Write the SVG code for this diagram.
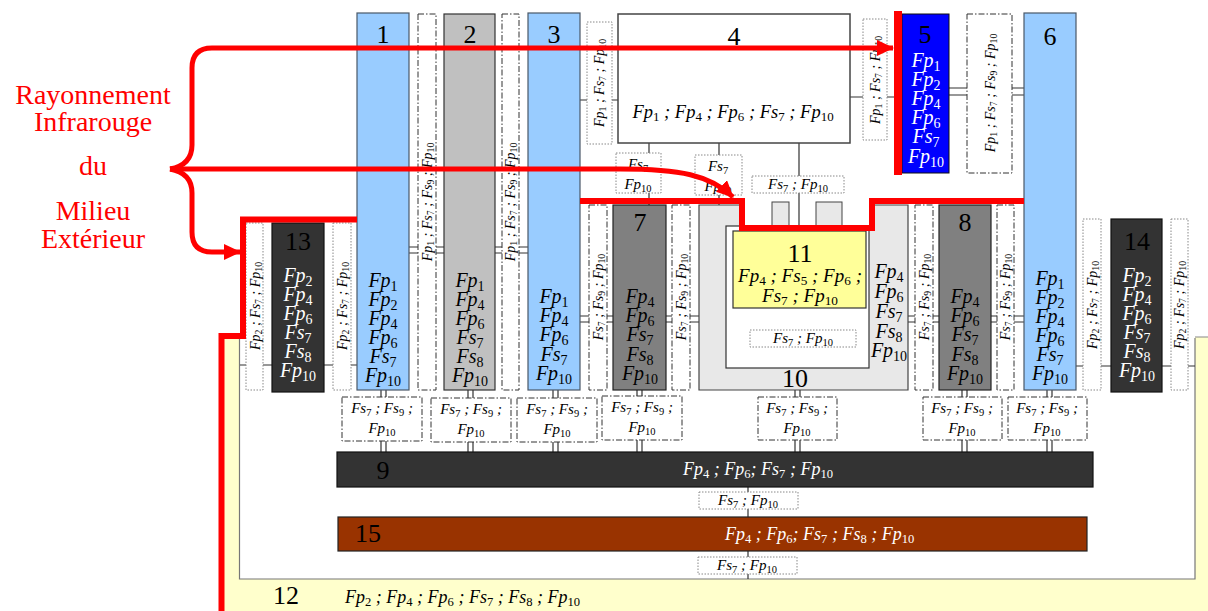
<svg xmlns="http://www.w3.org/2000/svg" width="1208" height="611" viewBox="0 0 1208 611" font-family="'Liberation Serif', 'Times New Roman', 'DejaVu Serif', serif">
<defs>
<style>
text{font-family:'Liberation Serif','Times New Roman','DejaVu Serif',serif}
.t{font-style:italic;text-anchor:middle;fill:#000}
.c{font-size:20px}
.v{font-size:14px}
.m{font-size:15px}
.w{fill:#fff}
.st{text-anchor:start}
.n{font-size:26px;text-anchor:middle;fill:#000}
.s{font-size:70%;baseline-shift:-0.25em;font-style:normal}
.lb{fill:#99CCFF;stroke:#4a5868;stroke-width:1.2}
.gy{fill:#C0C0C0;stroke:#333;stroke-width:1.2}
.dg{fill:#808080;stroke:#222;stroke-width:1.2}
.dk{fill:#333333;stroke:#111;stroke-width:1.2}
.dd{fill:#fff;stroke:#333;stroke-width:1;stroke-dasharray:6 2 1.5 2}
.dt{fill:#fff;stroke:#888;stroke-width:1;stroke-dasharray:1.5 1.5}
.ln{stroke:#333;stroke-width:1.2;fill:none}
.red{stroke:#FF0000;stroke-width:6;fill:none}
.ra{stroke:#FF0000;stroke-width:5;fill:none}
.rt{font-size:28px;fill:#FF0000;text-anchor:middle}
</style>
<marker id="ah" markerUnits="userSpaceOnUse" markerWidth="17" markerHeight="16" refX="16" refY="8" orient="auto"><path d="M0,0 L17,8 L0,16 z" fill="#FF0000"/></marker>
</defs>
<rect width="1208" height="611" fill="#fff"/>

<g id="n12">
<rect x="222" y="337" width="1000" height="290" rx="4" fill="#FFFFCC" stroke="#888" stroke-width="1.2"/>
<rect x="239.5" y="335" width="955.5" height="244" fill="#fff"/>
<path d="M239.5,337 V579 H1195 V338" fill="none" stroke="#777" stroke-width="1.2"/>
<text class="n" x="286" y="604">12</text>
<text class="t st" x="345" y="603" font-size="18">Fp<tspan class="s">2</tspan> ; Fp<tspan class="s">4</tspan> ; Fp<tspan class="s">6</tspan> ; Fs<tspan class="s">7</tspan> ; Fs<tspan class="s">8</tspan> ; Fp<tspan class="s">10</tspan></text>
</g>

<g id="connectors">
<path class="ln" d="M409,247 H418 M409,253 H418 M436,247 H444 M436,253 H444 M495,247 H502 M495,253 H502 M519,247 H528 M519,253 H528"/>
<path class="ln" d="M580,316 H589 M580,322 H589 M607,316 H613 M607,322 H613 M666,316 H672 M666,322 H672 M690,316 H699 M690,322 H699 M908,316 H915 M908,322 H915 M933,316 H939 M933,322 H939 M991,316 H997 M991,322 H997 M1014,316 H1024 M1014,322 H1024"/>
<path class="ln" d="M240,365 H246 M263,365 H272 M324,365 H333 M351,365 H357 M1076,366 H1083 M1101,366 H1111 M1162,366 H1171 M1188,366 H1195"/>
<path class="ln" d="M580,100 H587 M612,100 H618 M850,97 H863 M887,97 H894 M949,88 H967 M949,95 H967 M1012,88 H1024 M1012,95 H1024"/>
<path class="ln" d="M649,143 V153 M649,193 V205 M719,143 V155 M719,195 V205 M799,143 V176 M799,193 V231 M799,308 V330 M799,347 V368"/>
<path class="ln" d="M381,390 V397 M386,390 V397 M381,441 V452 M386,441 V452 M468,390 V398 M473,390 V398 M468,442 V452 M473,442 V452 M553,390 V398 M558,390 V398 M553,442 V452 M558,442 V452 M637,390 V396 M642,390 V396 M637,440 V452 M642,440 V452 M795,390 V397 M800,390 V397 M795,440 V452 M800,440 V452 M962,390 V397 M967,390 V397 M962,440 V452 M967,440 V452 M1047,390 V397 M1052,390 V397 M1047,440 V452 M1052,440 V452"/>
<path class="ln" d="M748,487 V492 M748,509 V517 M748,551 V557 M748,574 V579"/>
</g>

<g id="n1"><rect class="lb" x="357" y="13" width="52" height="377"/>
<text class="n" x="383" y="43">1</text>
<text class="t c" x="383" y="287">Fp<tspan class="s">1</tspan></text><text class="t c" x="383" y="306">Fp<tspan class="s">2</tspan></text><text class="t c" x="383" y="325">Fp<tspan class="s">4</tspan></text><text class="t c" x="383" y="344">Fp<tspan class="s">6</tspan></text><text class="t c" x="383" y="363">Fs<tspan class="s">7</tspan></text><text class="t c" x="383" y="382">Fp<tspan class="s">10</tspan></text></g>

<g id="n2"><rect class="gy" x="444" y="14" width="51" height="376"/>
<text class="n" x="470" y="43">2</text>
<text class="t c" x="470" y="287">Fp<tspan class="s">1</tspan></text><text class="t c" x="470" y="306">Fp<tspan class="s">4</tspan></text><text class="t c" x="470" y="325">Fp<tspan class="s">6</tspan></text><text class="t c" x="470" y="344">Fs<tspan class="s">7</tspan></text><text class="t c" x="470" y="363">Fs<tspan class="s">8</tspan></text><text class="t c" x="470" y="382">Fp<tspan class="s">10</tspan></text></g>

<g id="n3"><rect class="lb" x="528" y="13" width="52" height="377"/>
<text class="n" x="554" y="43">3</text>
<text class="t c" x="554" y="303">Fp<tspan class="s">1</tspan></text><text class="t c" x="554" y="322">Fp<tspan class="s">4</tspan></text><text class="t c" x="554" y="341">Fp<tspan class="s">6</tspan></text><text class="t c" x="554" y="361">Fs<tspan class="s">7</tspan></text><text class="t c" x="554" y="380">Fp<tspan class="s">10</tspan></text></g>

<g id="n4"><rect x="618" y="14" width="232" height="129" fill="#fff" stroke="#444" stroke-width="1.5"/>
<text class="n" x="734" y="45">4</text>
<text class="t" font-size="18.5" x="733" y="118">Fp<tspan class="s">1</tspan> ; Fp<tspan class="s">4</tspan> ; Fp<tspan class="s">6</tspan> ; Fs<tspan class="s">7</tspan> ; Fp<tspan class="s">10</tspan></text></g>

<g id="n5"><rect x="902" y="14" width="47" height="159" fill="#0000FF" stroke="#111"/>
<text class="n w" x="925" y="43">5</text>
<text class="t c w" x="926" y="67">Fp<tspan class="s">1</tspan></text><text class="t c w" x="926" y="86">Fp<tspan class="s">2</tspan></text><text class="t c w" x="926" y="105">Fp<tspan class="s">4</tspan></text><text class="t c w" x="926" y="124">Fp<tspan class="s">6</tspan></text><text class="t c w" x="926" y="143">Fs<tspan class="s">7</tspan></text><text class="t c w" x="926" y="163">Fp<tspan class="s">10</tspan></text></g>

<g id="n6"><rect class="lb" x="1024" y="13" width="52" height="377"/>
<text class="n" x="1050" y="45">6</text>
<text class="t c" x="1050" y="285">Fp<tspan class="s">1</tspan></text><text class="t c" x="1050" y="304">Fp<tspan class="s">2</tspan></text><text class="t c" x="1050" y="323">Fp<tspan class="s">4</tspan></text><text class="t c" x="1050" y="342">Fp<tspan class="s">6</tspan></text><text class="t c" x="1050" y="361">Fs<tspan class="s">7</tspan></text><text class="t c" x="1050" y="380">Fp<tspan class="s">10</tspan></text></g>

<g id="n7"><rect class="dg" x="613" y="205" width="53" height="185"/>
<text class="n" x="640" y="231">7</text>
<text class="t c" x="640" y="303">Fp<tspan class="s">4</tspan></text><text class="t c" x="640" y="322">Fp<tspan class="s">6</tspan></text><text class="t c" x="640" y="341">Fs<tspan class="s">7</tspan></text><text class="t c" x="640" y="361">Fs<tspan class="s">8</tspan></text><text class="t c" x="640" y="380">Fp<tspan class="s">10</tspan></text></g>

<g id="n10"><path d="M699,205 H742 V228 H872 V205 H908 V390 H699 Z" fill="#E8E8E8" stroke="#444" stroke-width="1.2"/>
<rect x="772" y="202" width="17" height="26" fill="#E8E8E8" stroke="#444"/>
<rect x="816" y="202" width="26" height="26" fill="#E8E8E8" stroke="#444"/>
<rect x="726" y="226" width="143" height="142" fill="#fff" stroke="#333" stroke-width="1.2"/>
<text class="n" x="795" y="387">10</text>
<text class="t c" x="889" y="278">Fp<tspan class="s">4</tspan></text><text class="t c" x="889" y="298">Fp<tspan class="s">6</tspan></text><text class="t c" x="889" y="318">Fs<tspan class="s">7</tspan></text><text class="t c" x="889" y="338">Fs<tspan class="s">8</tspan></text><text class="t c" x="889" y="357">Fp<tspan class="s">10</tspan></text></g>

<g id="n11"><rect x="733" y="231" width="133" height="77" fill="#FFFF99" stroke="#333" stroke-width="1.2"/>
<text class="n" x="800" y="262">11</text>
<text class="t" font-size="19" x="800" y="282">Fp<tspan class="s">4</tspan> ; Fs<tspan class="s">5</tspan> ; Fp<tspan class="s">6</tspan> ;</text>
<text class="t" font-size="19" x="800" y="302">Fs<tspan class="s">7</tspan> ; Fp<tspan class="s">10</tspan></text></g>

<g id="n8"><rect class="dg" x="939" y="205" width="52" height="185"/>
<text class="n" x="965" y="231">8</text>
<text class="t c" x="965" y="303">Fp<tspan class="s">4</tspan></text><text class="t c" x="965" y="322">Fp<tspan class="s">6</tspan></text><text class="t c" x="965" y="341">Fs<tspan class="s">7</tspan></text><text class="t c" x="965" y="361">Fs<tspan class="s">8</tspan></text><text class="t c" x="965" y="380">Fp<tspan class="s">10</tspan></text></g>

<g id="n13"><rect class="dk" x="272" y="223" width="52" height="169"/>
<text class="n w" x="298" y="250">13</text>
<text class="t c w" x="298" y="282">Fp<tspan class="s">2</tspan></text><text class="t c w" x="298" y="301">Fp<tspan class="s">4</tspan></text><text class="t c w" x="298" y="320">Fp<tspan class="s">6</tspan></text><text class="t c w" x="298" y="339">Fs<tspan class="s">7</tspan></text><text class="t c w" x="298" y="358">Fs<tspan class="s">8</tspan></text><text class="t c w" x="298" y="377">Fp<tspan class="s">10</tspan></text></g>

<g id="n14"><rect class="dk" x="1111" y="219" width="51" height="173"/>
<text class="n w" x="1137" y="250">14</text>
<text class="t c w" x="1137" y="282">Fp<tspan class="s">2</tspan></text><text class="t c w" x="1137" y="301">Fp<tspan class="s">4</tspan></text><text class="t c w" x="1137" y="320">Fp<tspan class="s">6</tspan></text><text class="t c w" x="1137" y="339">Fs<tspan class="s">7</tspan></text><text class="t c w" x="1137" y="358">Fs<tspan class="s">8</tspan></text><text class="t c w" x="1137" y="377">Fp<tspan class="s">10</tspan></text></g>

<g id="n9"><rect class="dk" x="337" y="452" width="756" height="35"/>
<text class="n w" x="383" y="479">9</text>
<text class="t st w" font-size="18" x="683" y="475">Fp<tspan class="s">4</tspan> ; Fp<tspan class="s">6</tspan>; Fs<tspan class="s">7</tspan> ; Fp<tspan class="s">10</tspan></text></g>

<g id="n15"><rect x="338" y="517" width="749" height="34" fill="#993300" stroke="#222" stroke-width="1.2"/>
<text class="n w" x="368" y="542" font-size="25">15</text>
<text class="t st w" font-size="18" x="725" y="540">Fp<tspan class="s">4</tspan> ; Fp<tspan class="s">6</tspan>; Fs<tspan class="s">7</tspan> ; Fs<tspan class="s">8</tspan> ; Fp<tspan class="s">10</tspan></text></g>

<g id="labels">
<rect class="dd" x="418" y="14" width="18" height="376"/>
<text class="t v" transform="translate(432,202) rotate(-90)">Fp<tspan class="s">1</tspan> ; Fs<tspan class="s">7</tspan> ; Fs<tspan class="s">9</tspan> ; Fp<tspan class="s">10</tspan></text>
<rect class="dd" x="502" y="14" width="17" height="376"/>
<text class="t v" transform="translate(515,202) rotate(-90)">Fp<tspan class="s">1</tspan> ; Fs<tspan class="s">7</tspan> ; Fs<tspan class="s">9</tspan> ; Fp<tspan class="s">10</tspan></text>
<rect class="dt" x="587" y="22" width="25" height="122"/>
<text class="t v" transform="translate(604,83) rotate(-90)">Fp<tspan class="s">1</tspan> ; Fs<tspan class="s">7</tspan> ; Fp<tspan class="s">10</tspan></text>
<rect class="dt" x="863" y="19" width="24" height="121"/>
<text class="t v" transform="translate(880,80) rotate(-90)">Fp<tspan class="s">1</tspan> ; Fs<tspan class="s">7</tspan> ; Fp<tspan class="s">10</tspan></text>
<rect class="dd" x="967" y="14" width="45" height="159"/>
<text class="t v" transform="translate(995,93) rotate(-90)">Fp<tspan class="s">1</tspan> ; Fs<tspan class="s">7</tspan> ; Fs<tspan class="s">9</tspan> ; Fp<tspan class="s">10</tspan></text>
<rect class="dt" x="246" y="223" width="17" height="167"/>
<text class="t v" transform="translate(260,306) rotate(-90)">Fp<tspan class="s">2</tspan> ; Fs<tspan class="s">7</tspan> ; Fp<tspan class="s">10</tspan></text>
<rect class="dt" x="333" y="223" width="18" height="167"/>
<text class="t v" transform="translate(347,306) rotate(-90)">Fp<tspan class="s">2</tspan> ; Fs<tspan class="s">7</tspan> ; Fp<tspan class="s">10</tspan></text>
<rect class="dd" x="589" y="205" width="18" height="185"/>
<text class="t v" transform="translate(603,297) rotate(-90)">Fs<tspan class="s">7</tspan> ; Fs<tspan class="s">9</tspan> ; Fp<tspan class="s">10</tspan></text>
<rect class="dd" x="672" y="205" width="18" height="185"/>
<text class="t v" transform="translate(686,297) rotate(-90)">Fs<tspan class="s">7</tspan> ; Fs<tspan class="s">9</tspan> ; Fp<tspan class="s">10</tspan></text>
<rect class="dd" x="915" y="205" width="18" height="185"/>
<text class="t v" transform="translate(929,297) rotate(-90)">Fs<tspan class="s">7</tspan> ; Fs<tspan class="s">9</tspan> ; Fp<tspan class="s">10</tspan></text>
<rect class="dd" x="997" y="205" width="17" height="185"/>
<text class="t v" transform="translate(1010,297) rotate(-90)">Fs<tspan class="s">7</tspan> ; Fs<tspan class="s">9</tspan> ; Fp<tspan class="s">10</tspan></text>
<rect class="dt" x="1083" y="219" width="18" height="171"/>
<text class="t v" transform="translate(1097,305) rotate(-90)">Fp<tspan class="s">2</tspan> ; Fs<tspan class="s">7</tspan> ; Fp<tspan class="s">10</tspan></text>
<rect class="dt" x="1171" y="219" width="17" height="171"/>
<text class="t v" transform="translate(1184,305) rotate(-90)">Fp<tspan class="s">2</tspan> ; Fs<tspan class="s">7</tspan> ; Fp<tspan class="s">10</tspan></text>

<rect class="dt" x="616" y="153" width="45" height="40"/>
<text class="t m" x="638" y="169">Fs<tspan class="s">7</tspan></text><text class="t m" x="638" y="189">Fp<tspan class="s">10</tspan></text>
<rect class="dt" x="695" y="155" width="47" height="40"/>
<text class="t m" x="718" y="171">Fs<tspan class="s">7</tspan></text><text class="t m" x="718" y="191">Fp<tspan class="s">10</tspan></text>
<rect class="dt" x="752" y="176" width="92" height="17"/>
<text class="t m" x="798" y="189">Fs<tspan class="s">7</tspan> ; Fp<tspan class="s">10</tspan></text>
<rect class="dt" x="750" y="330" width="106" height="17"/>
<text class="t m" x="803" y="343">Fs<tspan class="s">7</tspan> ; Fp<tspan class="s">10</tspan></text>
<rect class="dt" x="699" y="492" width="99" height="17"/>
<text class="t m" x="748" y="505">Fs<tspan class="s">7</tspan> ; Fp<tspan class="s">10</tspan></text>
<rect class="dt" x="698" y="557" width="99" height="17"/>
<text class="t m" x="747" y="570">Fs<tspan class="s">7</tspan> ; Fp<tspan class="s">10</tspan></text>

<rect class="dd" x="342" y="397" width="80" height="44"/>
<text class="t m" x="382" y="413">Fs<tspan class="s">7</tspan> ; Fs<tspan class="s">9</tspan> ;</text><text class="t m" x="382" y="433">Fp<tspan class="s">10</tspan></text>
<rect class="dd" x="431" y="398" width="80" height="44"/>
<text class="t m" x="471" y="414">Fs<tspan class="s">7</tspan> ; Fs<tspan class="s">9</tspan> ;</text><text class="t m" x="471" y="434">Fp<tspan class="s">10</tspan></text>
<rect class="dd" x="517" y="398" width="80" height="44"/>
<text class="t m" x="557" y="414">Fs<tspan class="s">7</tspan> ; Fs<tspan class="s">9</tspan> ;</text><text class="t m" x="557" y="434">Fp<tspan class="s">10</tspan></text>
<rect class="dd" x="602" y="396" width="80" height="44"/>
<text class="t m" x="642" y="412">Fs<tspan class="s">7</tspan> ; Fs<tspan class="s">9</tspan> ;</text><text class="t m" x="642" y="432">Fp<tspan class="s">10</tspan></text>
<rect class="dd" x="758" y="397" width="79" height="43"/>
<text class="t m" x="797" y="413">Fs<tspan class="s">7</tspan> ; Fs<tspan class="s">9</tspan> ;</text><text class="t m" x="797" y="433">Fp<tspan class="s">10</tspan></text>
<rect class="dd" x="923" y="397" width="79" height="43"/>
<text class="t m" x="962" y="413">Fs<tspan class="s">7</tspan> ; Fs<tspan class="s">9</tspan> ;</text><text class="t m" x="962" y="433">Fp<tspan class="s">10</tspan></text>
<rect class="dd" x="1008" y="397" width="79" height="43"/>
<text class="t m" x="1047" y="413">Fs<tspan class="s">7</tspan> ; Fs<tspan class="s">9</tspan> ;</text><text class="t m" x="1047" y="433">Fp<tspan class="s">10</tspan></text>
</g>

<g id="radiation">
<path class="red" d="M357,219.5 H243 V336 H221.5 V611"/>
<path class="red" d="M580,201 H742 V228 H872 V201 H1024"/>
<rect x="894" y="11" width="8" height="164" fill="#FF0000"/>
<path class="ra" d="M170,169 Q192,165 192,145 V68 Q192,48 212,48 H893" marker-end="url(#ah)"/>
<path class="ra" d="M170,169 H620 C680,169 710,175 733,197" marker-end="url(#ah)"/>
<path class="ra" d="M170,169 Q192,173 192,193 V232 Q192,252 212,252 H240" marker-end="url(#ah)"/>
<text class="rt" x="93" y="104">Rayonnement</text>
<text class="rt" x="93" y="131">Infrarouge</text>
<text class="rt" x="93" y="175">du</text>
<text class="rt" x="93" y="220">Milieu</text>
<text class="rt" x="93" y="248">Extérieur</text>
</g>
</svg>
